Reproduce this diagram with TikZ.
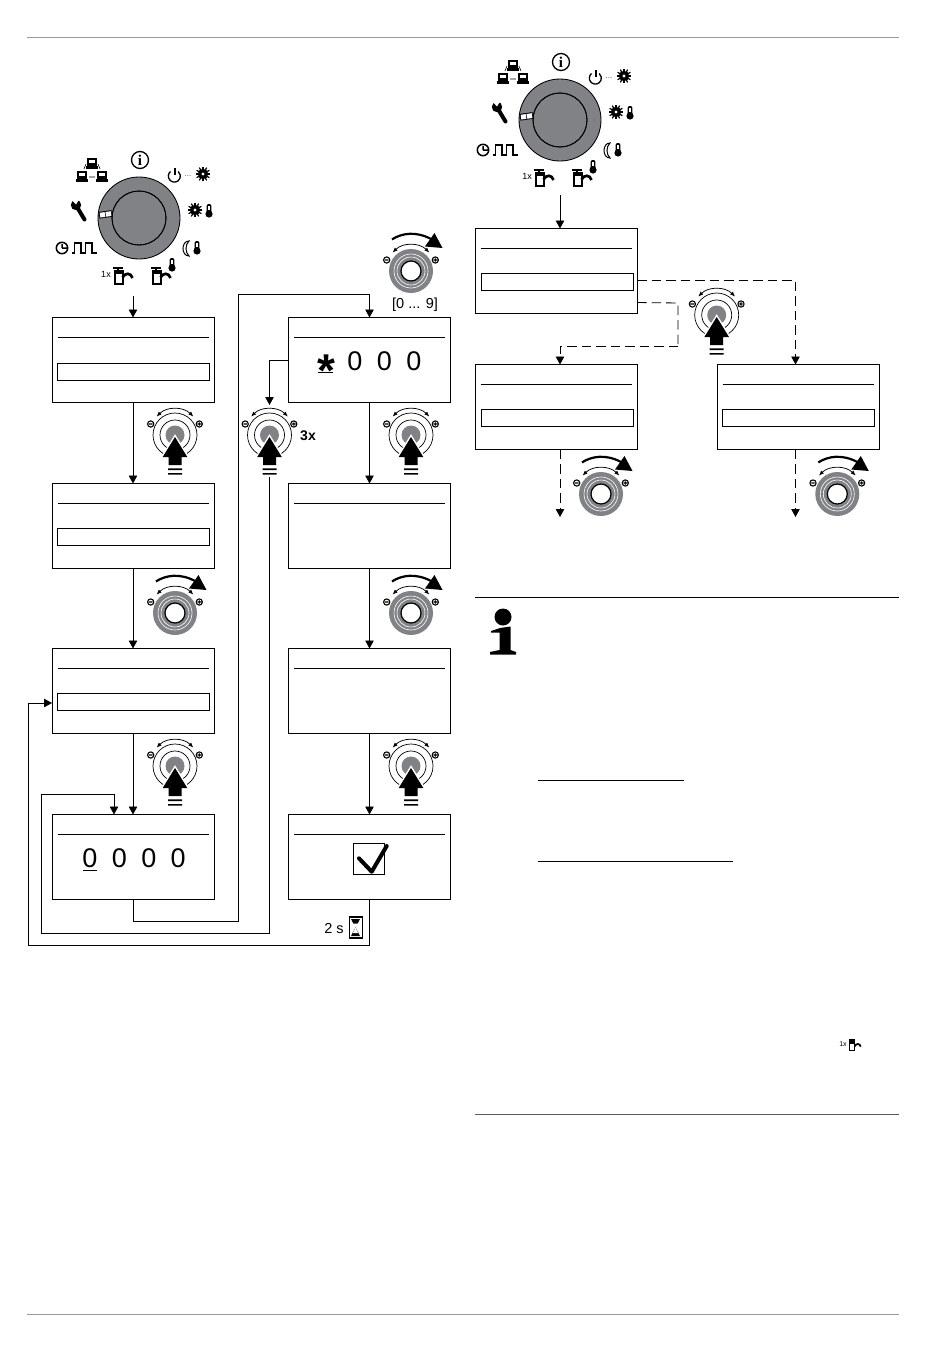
\documentclass[tikz,border=0pt]{standalone}
\usepackage{fontspec}
\setmainfont{Liberation Sans}
\newfontfamily\serifface{Liberation Serif}
\usetikzlibrary{positioning,arrows.meta}
\definecolor{knobgray}{HTML}{808285}
\definecolor{rulegray}{HTML}{9A9A9A}
\tikzset{
  flow/.style={-{Triangle[width=8.5pt,length=8pt]}, draw, black, line width=0.85pt},
  flowline/.style={draw, black, line width=0.85pt},
  dashflow/.style={flow, dash pattern=on 9.5pt off 5pt},
  dashline/.style={flowline, dash pattern=on 9.5pt off 5pt},
  dispbox/.style={rectangle, draw=black, line width=0.85pt, outer sep=0pt, minimum width=162pt, minimum height=85pt, inner sep=0pt},
  fieldbox/.style={rectangle, draw=black, line width=0.85pt, outer sep=0pt, minimum width=152pt, minimum height=17pt, inner sep=0pt},
  digit/.style={font=\fontsize{27}{27}\selectfont, inner sep=0pt, outer sep=0pt},
  tapline/.style={line width=2pt},
  spoutline/.style={line width=2.7pt},
  sunicon/.pic={
    \foreach \a in {0,30,...,330} \draw[line width=1.2pt] (0,0) -- (\a:7.4pt);
    \fill circle[radius=5.2pt];
    \fill[white] circle[radius=1.7pt];
  },
  thermo/.pic={
    \fill[rounded corners=2pt] (-2.4,-7) rectangle (2.4,3);
    \fill (0,3) circle[radius=3.6pt];
    \fill[white] (-0.6,-5.5) rectangle (0.6,-1);
  },
  pcicon/.pic={
    \fill (-5,-5.5) rectangle (5,2.5);
    \fill[white] (-3,-3.5) rectangle (3,-0.5);
    \fill (-6,3) rectangle (6,5.5);
  },
  tapicon/.pic={
    \draw[tapline] (-7,-9.5) -- (3,-9.5) (-2,-10.5) -- (-2,-6);
    \draw[tapline] (-5.5,-6.5) rectangle (2.5,7);
    \fill (-5.5,-7) rectangle (2.5,-3.5);
    \draw[spoutline] (2.5,0.5) .. controls (5,-4.5) and (11,-4.5) .. (12.5,1);
  },
  knobtop/.pic={
    \draw[line width=0.75pt, {Latex[length=5pt,width=4pt]}-{Latex[length=5pt,width=4pt]}] (-18.4,-18.4) arc[start angle=135, end angle=45, radius=26pt];
    \draw[line width=1.1pt] (-24.3,-11) circle[radius=3.1pt] (-26,-11) -- (-22.6,-11);
    \draw[line width=1.1pt] (24.3,-11) circle[radius=3.1pt] (22.6,-11) -- (26,-11) (24.3,-12.7) -- (24.3,-9.3);
  },
  pushknob/.pic={
    \coordinate (-top) at (0,-30);
    \coordinate (-bot) at (0,42);
    \pic {knobtop};
    \draw[line width=0.7pt] (0,0) circle[radius=22pt] (0,0) circle[radius=15pt];
    \fill[knobgray] (0,0) circle[radius=9.5pt];
    \draw[white, line width=3pt, fill=black] (0,2) -- (12.3,22) -- (6.5,22) -- (6.5,30) -- (-6.5,30) -- (-6.5,22) -- (-12.3,22) -- cycle;
    \fill (0,2) -- (12.3,22) -- (6.5,22) -- (6.5,30) -- (-6.5,30) -- (-6.5,22) -- (-12.3,22) -- cycle;
    \fill (-7,33.3) rectangle (7,35.2) (-7,38) rectangle (7,39.6);
  },
  turnknob/.pic={
    \pic {knobtop};
    \fill[knobgray] (0,0) circle[radius=22pt];
    \draw[white, line width=0.6pt] (0,0) circle[radius=17pt] (0,0) circle[radius=14pt];
    \draw[black, fill=white, line width=1.2pt] (0,0) circle[radius=10pt];
    \draw[line width=2.2pt] (-19,-31.6) .. controls (-9,-38) and (5,-40) .. (20,-32);
    \fill (14,-24.5) -- (31.5,-23) -- (23.5,-38) -- cycle;
  },
  dial/.pic={
    \fill[knobgray] (0,0) circle[radius=41pt];
    \draw[line width=0.85pt] (0,0) circle[radius=41pt] (0,0) circle[radius=27pt];
    \begin{scope}[rotate around={8:(-33.5,-3.5)}]
      \fill[black] (-40,-7) rectangle (-27,-0.3);
      \fill[white] (-39,-6) rectangle (-34,-1.2);
      \fill[white] (-33.2,-6) rectangle (-27.8,-1.2);
    \end{scope}
    \draw[line width=0.85pt] (0,0) circle[radius=27pt];
    % info
    \draw[line width=1.3pt] (1,-58) circle[radius=8.5pt];
    \node[font=\serifface\bfseries\fontsize{15}{15}\selectfont, inner sep=0pt] (-info) at (1,-58) {i};
    % network
    \pic at (-47,-55) {pcicon};
    \pic at (-57,-42) {pcicon};
    \pic at (-37,-42) {pcicon};
    \draw[line width=0.6pt] (-55,-49) -- (-53,-54) (-39,-49) -- (-41,-54) (-50,-41) -- (-44,-41);
    % power and sun
    \draw[line width=1.3pt] (31.5,-46.5) arc[start angle=130, end angle=410, radius=6pt];
    \draw[line width=1.3pt] (36,-50) -- (36,-43);
    \node[font=\fontsize{8}{8}\selectfont, text=black!70, inner sep=0pt] (-dots) at (49,-42) {...};
    \pic at (64,-44) {sunicon};
    \pic at (56,-8) {sunicon};
    \pic at (70,-7) {thermo};
    % moon
    \draw[line width=1pt] (50,23) .. controls (42,23) and (42,38) .. (50,38) .. controls (46,34) and (46,27) .. (50,23) -- cycle;
    \pic at (58,30) {thermo};
    % taps
    \pic at (19,59) {tapicon};
    \pic at (33,47) {thermo};
    \pic at (-19,59) {tapicon};
    \node[font=\fontsize{9}{9}\selectfont, inner sep=0pt] (-once) at (-33,56.5) {1x};
    % clock and pulses
    \draw[line width=1.5pt] (-77,30) circle[radius=5.7pt] (-77,30) -- (-77,26) (-77,30) -- (-72,30);
    \draw[line width=1.5pt] (-67,35) -- (-64.5,35) -- (-64.5,25) -- (-58,25) -- (-58,35) -- (-53.5,35) -- (-53.5,25) -- (-47,25) -- (-47,35) -- (-42,35);
    % wrench
    \draw[line width=4pt, line cap=round] (-62,-11) -- (-54.5,1.5);
    \fill (-63,-13) circle[radius=5.2pt];
    \fill[white] (-69,-20) -- (-63,-13.5) -- (-59,-20) -- cycle;
  },
}
\begin{document}
\begin{tikzpicture}[x=1pt, y=-1pt]
  \useasboundingbox (0,0) rectangle (950,1360);
  \draw[rulegray, line width=0.75pt] (27,37) -- (899,37) (27,1314) -- (899,1314);

  \pic at (139,218) {dial};
  \pic at (560,120) {dial};
  \coordinate (dialaout) at (133,296);
  \coordinate (dialbout) at (560,195);

  \node[dispbox] (a) at (133,360) {};
  \node[dispbox, below=81pt of a] (b) {};
  \node[dispbox, below=80pt of b] (c) {};
  \node[dispbox, below=81pt of c] (d) {};
  \node[dispbox, right=74.5pt of a] (e) {};
  \node[dispbox, below=81pt of e] (f) {};
  \node[dispbox, below=80pt of f] (g) {};
  \node[dispbox, below=81pt of g] (h) {};
  \node[dispbox] (top) at (556,271) {};
  \node[dispbox, below=51pt of top] (lft) {};
  \node[dispbox, right=80pt of lft] (rgt) {};

  \foreach \b in {a,b,c,d,e,f,g,h,top,lft,rgt}
    \draw[line width=0.85pt] ([xshift=5.5pt,yshift=-19.5pt]\b.north west) -- ([xshift=-5.5pt,yshift=-19.5pt]\b.north east);

  \node[fieldbox, below=46pt of a.north, xshift=.5pt] (afield) {};
  \node[fieldbox, below=45pt of b.north, xshift=.5pt] (bfield) {};
  \node[fieldbox, below=45pt of c.north, xshift=.5pt] (cfield) {};
  \node[fieldbox, below=44.5pt of top.north, xshift=1pt] (topfield) {};
  \node[fieldbox, below=45pt of lft.north, xshift=1pt] (lftfield) {};
  \node[fieldbox, below=45pt of rgt.north, xshift=.5pt] (rgtfield) {};

  \node[digit] (d1) at (90,858) {0};
  \node[digit, right=14.4pt of d1] (d2) {0};
  \node[digit, right=14.4pt of d2] (d3) {0};
  \node[digit, right=14.4pt of d3] (d4) {0};
  \draw[line width=0.85pt] (83.3,870) -- (96.7,870);

  \node[inner sep=0pt, font=\bfseries\fontsize{46}{46}\selectfont] (star) at (326,371) {*};
  \node[digit] (e2) at (355,361.5) {0};
  \node[digit, right=14.4pt of e2] (e3) {0};
  \node[digit, right=14.4pt of e3] (e4) {0};
  \draw[line width=1pt] (318,372.7) -- (333,372.7);

  \draw[line width=0.85pt] (353.3,843.3) rectangle (384.3,874.3);
  \draw[line width=4pt, line cap=round, line join=round] (359,858.3) -- (371.7,871.7) -- (386.7,846);

  \pic (pusha) at (175,435) {pushknob};
  \pic at (175,613) {turnknob};
  \pic (pushb) at (175,766) {pushknob};
  \pic (pushc) at (269.5,435) {pushknob};
  \pic (pushd) at (411,435) {pushknob};
  \pic at (411,613) {turnknob};
  \pic (pushe) at (411,766) {pushknob};
  \pic at (411,271) {turnknob};
  \pic (pushf) at (716.7,315) {pushknob};
  \pic at (601,494) {turnknob};
  \pic at (837.3,494) {turnknob};

  \node[font=\bfseries\fontsize{14}{14}\selectfont, inner sep=0pt] (thrice) at (308,436) {3x};
  \node[font=\fontsize{14.5}{14.5}\selectfont, inner sep=0pt] (range) at (415,305) {[0 ... 9]};
  \node[font=\fontsize{14.5}{14.5}\selectfont, inner sep=0pt] (wait) at (334,928) {2 s};

  \draw[line width=0.85pt] (349,917) rectangle (362,938);
  \draw[line width=1.8pt] (348.5,917) -- (362.5,917) (348.5,938) -- (362.5,938);
  \fill (351,919) -- (360,919) -- (355.5,927.5) -- (360,936) -- (351,936) -- (355.5,927.5) -- cycle;
  \fill[white] (352.5,923.5) -- (358.5,923.5) -- (355.5,927.5) -- (358,933) -- (353,933) -- (355.5,927.5) -- cycle;

  \draw[flow] (dialaout) -- (a.north);
  \draw[flow] (a.south) -- (b.north);
  \draw[flow] (b.south) -- (c.north);
  \draw[flow] (c.south) -- (d.north);
  \draw[flow] (e.south) -- (f.north);
  \draw[flow] (f.south) -- (g.north);
  \draw[flow] (g.south) -- (h.north);

  \coordinate (riselow) at (238.5,921);
  \coordinate (risehigh) at (238.5,294);
  \draw[flow] (d.south) |- (riselow) -- (risehigh) -| (e.north);

  \draw[flow] (e.west) -| (pushc-top);

  \coordinate (backa) at (41.5,933);
  \coordinate (backb) at (41.5,794.5);
  \draw[flow] (pushc-bot) |- (backa) -- (backb) -| ([xshift=-19pt]d.north);

  \coordinate (backc) at (28,945);
  \coordinate (backd) at (28,703);
  \draw[flow] (h.south) |- (backc) -- (backd) -- (backd -| c.west);

  \draw[flow] (dialbout) -- ([xshift=4pt]top.north);
  \draw[dashflow] ([yshift=-9.5pt]top.east) -| ([xshift=-2.5pt]rgt.north);
  \coordinate (jogout) at (678,303);
  \coordinate (jogdown) at (678,346);
  \draw[dashline] ([yshift=-31.5pt]top.east) -- (jogout) -- (jogdown);
  \draw[dashflow] (jogdown) -| ([xshift=4pt]lft.north);
  \coordinate (lftend) at (560,517);
  \coordinate (rgtend) at (795.5,517);
  \draw[dashflow] ([xshift=4pt]lft.south) -- (lftend);
  \draw[dashflow] ([xshift=-2.5pt]rgt.south) -- (rgtend);

  % note on the right
  \draw[line width=1pt] (475,597.5) -- (899,597.5);
  \draw[black!65, line width=0.85pt] (475,1114) -- (899,1114);
  \fill (503,617) circle[radius=8.5pt];
  \fill (491,631) -- (500,628) -- (510.5,626.5) -- (510.5,650) -- (516,652) -- (516,654.5) -- (490,654.5) -- (490,652) -- (499.5,650) -- (499.5,632.5) -- (491,632.5) -- cycle;
  \draw[line width=0.9pt] (538,780) -- (684,780) (538,861) -- (733,861);
  \pic[scale=.62, tapline/.style={line width=1.3pt}, spoutline/.style={line width=1.8pt}] at (853,1046) {tapicon};
  \node[font=\fontsize{7}{7}\selectfont, inner sep=0pt] (oncesmall) at (843,1044.5) {1x};
\end{tikzpicture}
\end{document}
